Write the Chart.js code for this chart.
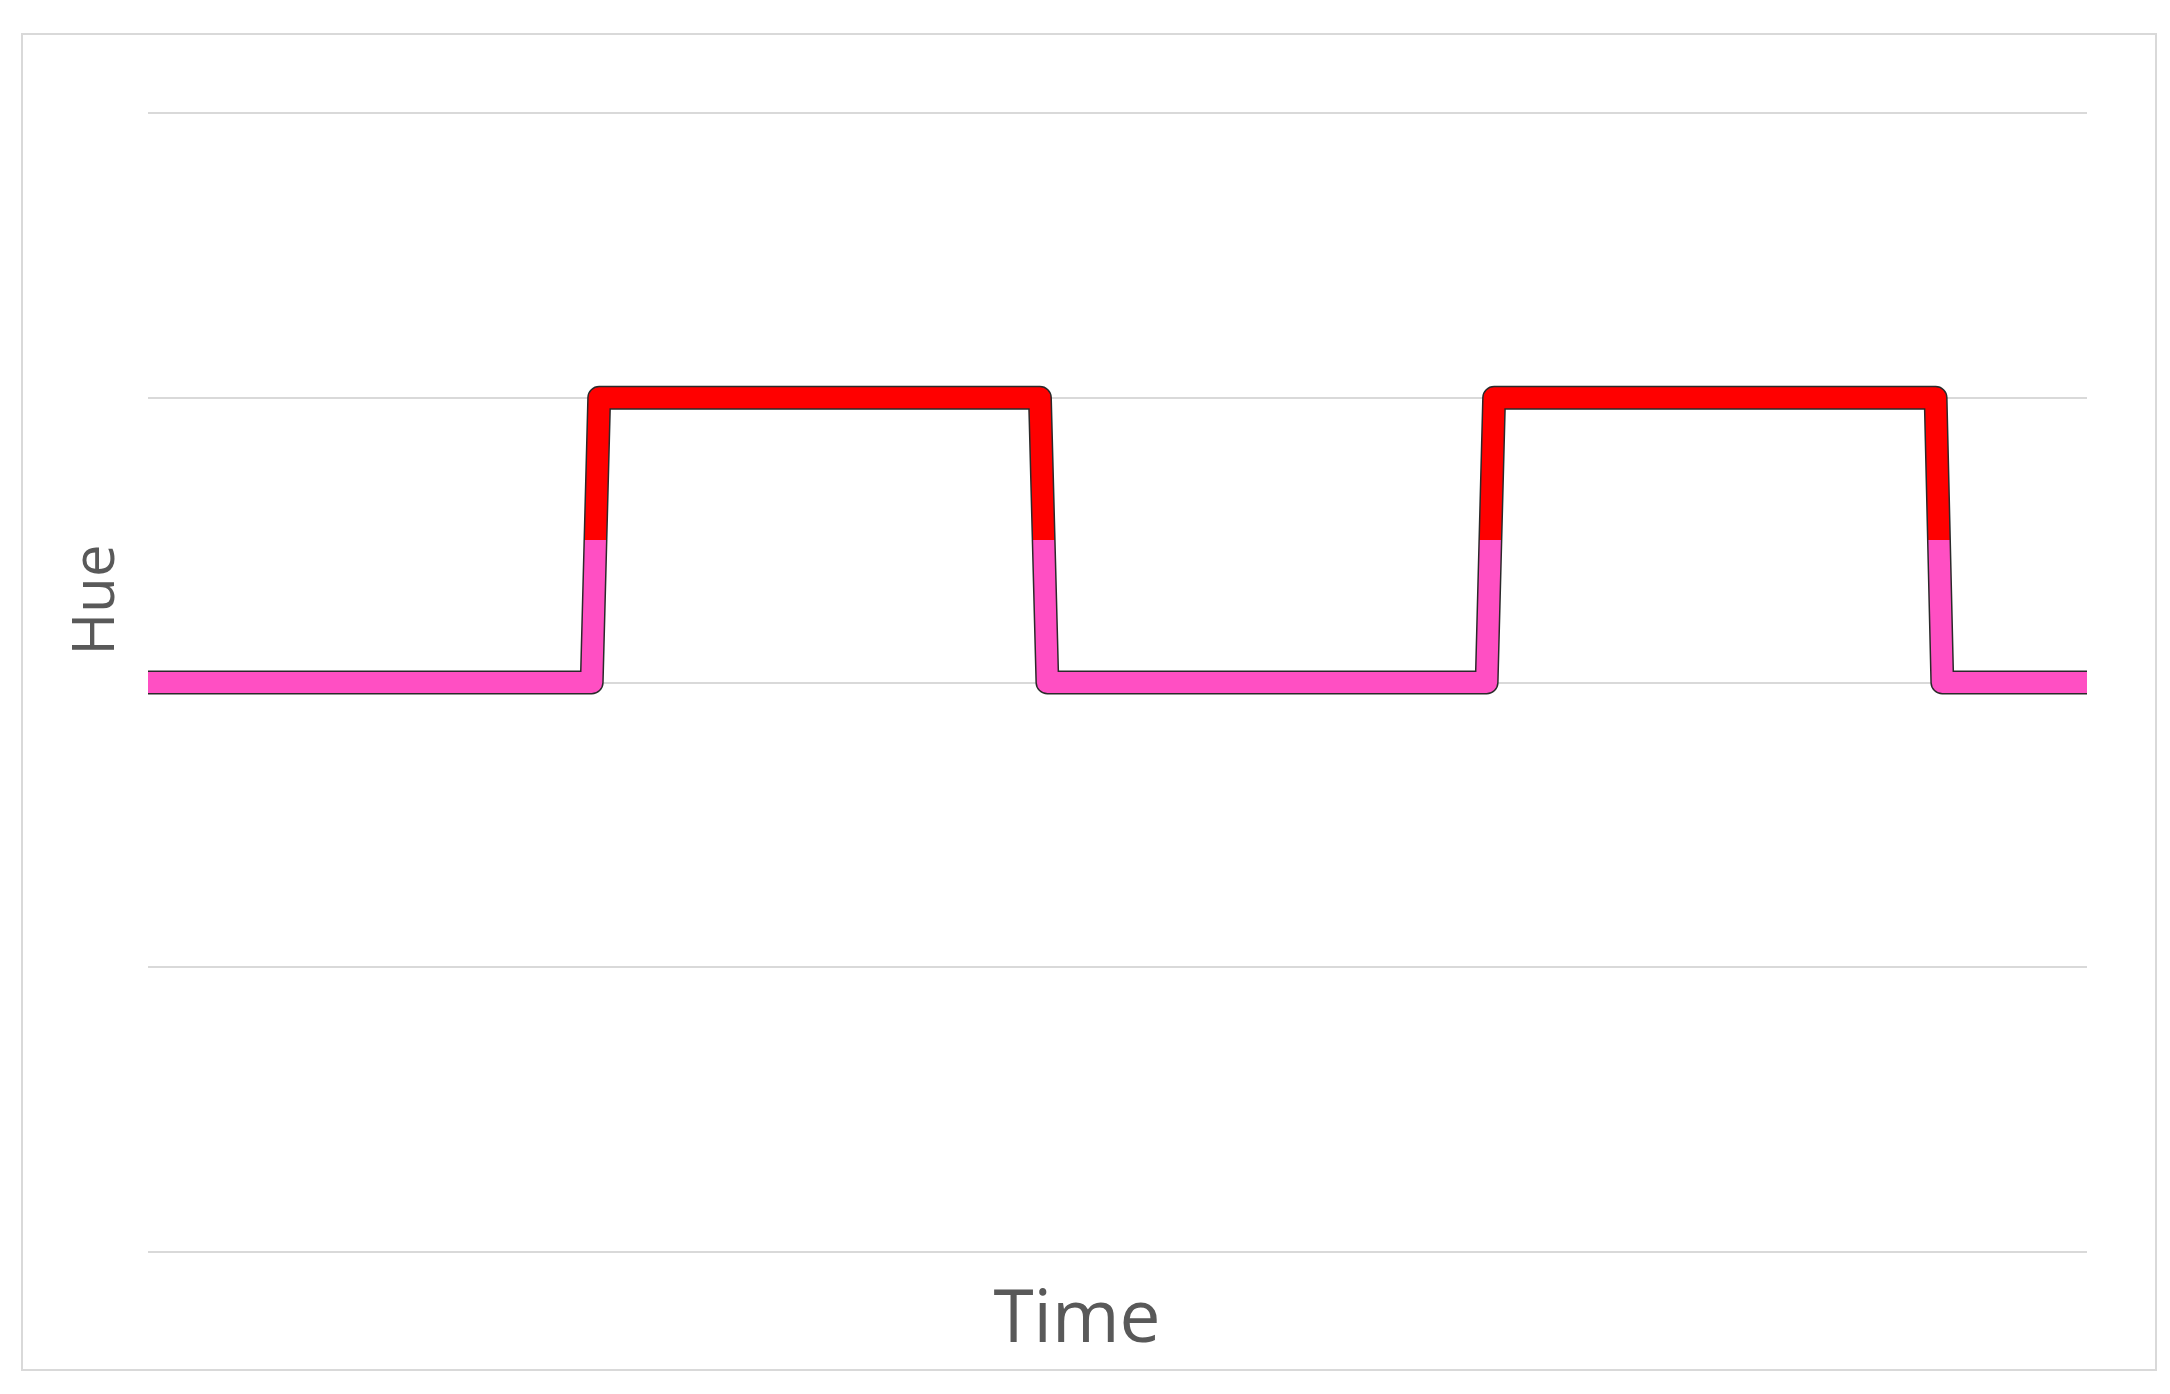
<!DOCTYPE html>
<html>
<head>
<meta charset="utf-8">
<script src="https://cdn.jsdelivr.net/npm/chart.js@4/dist/chart.umd.min.js"></script>
<style>
  html, body { margin: 0; padding: 0; background: #ffffff; }
  body { width: 2170px; height: 1394px; position: relative; overflow: hidden; }
  #frame {
    position: absolute; left: 21px; top: 33px; width: 2132px; height: 1334px;
    border: 2px solid #d9d9d9; box-sizing: content-box;
  }
  #wrap { position: absolute; left: 0; top: 0; width: 2170px; height: 1394px; }
</style>
</head>
<body>
<div id="frame"></div>
<div id="wrap"><canvas id="hueChart"></canvas></div>
<script>
// --- DADOS ---
const timeValues = [0, 2.975, 3.025, 5.98, 6.03, 8.975, 9.025, 11.985, 12.03, 13];
const hueValues = [0, 0, 1, 1, 0, 0, 1, 1, 0, 0];
const yTicks = [-2, -1, 0, 1, 2];
const splitValue = 0.5; // acima: vermelho, abaixo: rosa
const xTitle = 'Time';
const yTitle = 'Hue';

const RED = '#ff0000';
const PINK = '#ff4fc3';

const points = timeValues.map((t, i) => ({ x: t, y: hueValues[i] }));

function splitGradient(context) {
  const chart = context.chart;
  const { ctx, chartArea, scales } = chart;
  if (!chartArea) return RED;
  const yMid = scales.y.getPixelForValue(splitValue);
  const f = Math.min(1, Math.max(0, (yMid - chartArea.top) / (chartArea.bottom - chartArea.top)));
  const g = ctx.createLinearGradient(0, chartArea.top, 0, chartArea.bottom);
  g.addColorStop(0, RED);
  g.addColorStop(f, RED);
  g.addColorStop(f, PINK);
  g.addColorStop(1, PINK);
  return g;
}

// titulos dos eixos, desenhados na posicao do original
const axisTitles = {
  id: 'axisTitles',
  afterDraw(chart) {
    const ctx = chart.ctx;
    ctx.save();
    ctx.fillStyle = '#595959';
    ctx.textAlign = 'center';
    ctx.textBaseline = 'alphabetic';
    ctx.font = '73px "Open Sans"';
    ctx.fillText(xTitle, 1077, 1342);
    ctx.translate(114, 600);
    ctx.rotate(-Math.PI / 2);
    ctx.font = '58px "Open Sans"';
    ctx.fillText(yTitle, 0, 0);
    ctx.restore();
  },
};

const ctx = document.getElementById('hueChart').getContext('2d');
new Chart(ctx, {
  type: 'line',
  data: {
    datasets: [
      {
        label: 'contorno',
        data: points,
        borderColor: '#2a2a2a',
        borderWidth: 24,
        borderJoinStyle: 'round',
        borderCapStyle: 'butt',
        pointRadius: 0,
        tension: 0,
        fill: false,
        clip: false,
        order: 2,
      },
      {
        label: 'Hue',
        data: points,
        borderColor: splitGradient,
        borderWidth: 21,
        borderJoinStyle: 'round',
        borderCapStyle: 'butt',
        pointRadius: 0,
        tension: 0,
        fill: false,
        clip: false,
        order: 1,
      },
    ],
  },
  options: {
    responsive: true,
    maintainAspectRatio: false,
    animation: false,
    layout: { padding: { left: 148, right: 83, top: 113, bottom: 142 } },
    scales: {
      x: {
        type: 'linear',
        min: timeValues[0],
        max: timeValues[timeValues.length - 1],
        display: false,
      },
      y: {
        type: 'linear',
        min: yTicks[0],
        max: yTicks[yTicks.length - 1],
        afterBuildTicks: (axis) => { axis.ticks = yTicks.map((v) => ({ value: v })); },
        ticks: { display: false },
        border: { display: false },
        grid: { color: '#d9d9d9', lineWidth: 2, drawTicks: false },
      },
    },
    plugins: {
      legend: { display: false },
      tooltip: { enabled: false },
    },
  },
  plugins: [axisTitles],
});
</script>
</body>
</html>
